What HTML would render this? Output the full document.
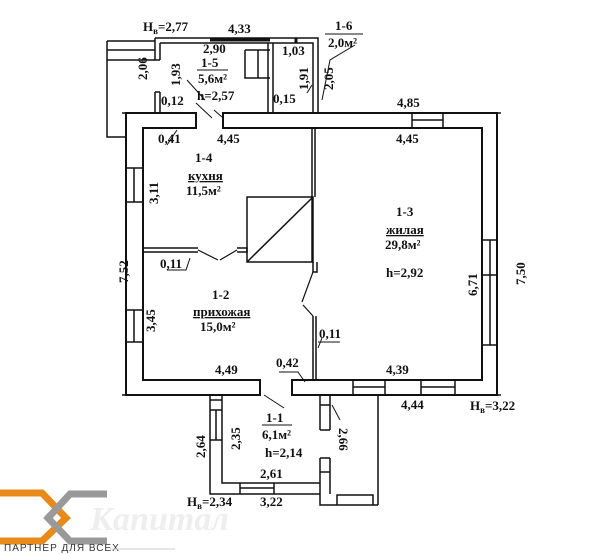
<!DOCTYPE html>
<html><head><meta charset="utf-8"><style>
html,body{margin:0;padding:0;background:#fff;width:600px;height:554px;overflow:hidden}
svg{display:block}
text{font-family:"Liberation Serif",serif;font-weight:bold;font-size:13px;fill:#111}
</style></head><body>
<svg width="600" height="554" viewBox="0 0 600 554" xmlns="http://www.w3.org/2000/svg">
<g fill="none" stroke="#111" stroke-width="2">
<path d="M126 113 H196 V128 H143 V380 H260 V395 H126 Z" fill="#fff"/>
<path d="M223 113 H497 V395 H292 V380 H482 V128 H223 Z" fill="#fff"/>
<path d="M412 113 V128 M443 113 V128 M412 120 H443" stroke-width="1.5"/>
<path d="M353 380 V395 M385 380 V395 M353 387 H385 M421 380 V395 M455 380 V395 M421 387 H455" stroke-width="1.5"/>
<path d="M126 168 H143 M126 202 H143 M134 168 V202 M126 310 H143 M126 342 H143 M134 310 V342" stroke-width="1.5"/>
<path d="M482 240 H497 M482 275 H497 M482 345 H497 M490 240 V345" stroke-width="1.5"/>
<path d="M122 113 H130 M493 113 H501 M122 395 H130 M493 395 H501" stroke-width="1.5"/>
<path d="M312 128 V262 M315 128 V197 M313 262 V272 H317 V262 M313 316 V380 M316 316 V380" stroke-width="1.5"/>
<path d="M143 248 H198 M143 252 H198 M237 248 H247 V252 H237" stroke-width="1.5"/>
<rect x="247" y="197" width="66" height="65" stroke-width="1.5"/>
<path d="M247 262 L313 197" stroke-width="1.5"/>
<path d="M198 250 L218 260 M237 250 L220 260 M313 272 L302 302 M313 316 L303 305" stroke-width="1.2"/>
<path d="M155 38 H318 V113 M155 38 V60 M160 43 H313 V113 M160 43 V60 M155 60 H160" stroke-width="1.5"/>
<path d="M296 38 V43 M210 40 H270" stroke-width="3"/>
<path d="M268 43 V113 M273 43 V113" stroke-width="1.5"/>
<path d="M245 50 H270 M245 50 V78 H270 M258 50 V78" stroke-width="1.5"/>
<path d="M155 92 V113 M160 92 V113 M155 92 H160" stroke-width="1.5"/>
<path d="M107 41 H155 M107 60 H155 M107 41 V137 H126 M107 50 H155" stroke-width="1.5"/>
<path d="M210 395 V494 H320 M222 395 V483 H320 M210 400 H222 M216 410 V440 M210 410 H222 M210 440 H222" stroke-width="1.5"/>
<path d="M240 483 V494 M274 483 V494 M240 488 H274" stroke-width="1.5"/>
<path d="M320 395 V430 M330 395 V430 M320 430 H330 M320 458 V505 H378 M330 458 V494 M320 458 H330 M320 405 H330 M320 472 H330" stroke-width="1.5"/>
<path d="M378 395 V505 M337 505 V495 H373 V505" stroke-width="1.5"/>
<path d="M187 80 L205 100 M196 103 L212 118 M167 145 L177 130 M167 270 L186 270 L190 258 M318 342 L340 342 M318 348 L322 338 M279 372 L298 372 L305 382 M322 100 L330 60 L355 45 M307 93 L312 85 M264 395 L284 408 M214 110 L222 117 M340 420 L332 405" stroke-width="1"/>
</g>
<g>
<text x="143" y="31" font-size="12">H<tspan font-size="9" dy="3">в</tspan><tspan dy="-3">=2,77</tspan></text>
<text x="228" y="33">4,33</text>
<text x="203" y="53">2,90</text>
<text x="282" y="55">1,03</text>
<text x="335" y="30">1-6</text>
<line x1="325" y1="34" x2="363" y2="34" stroke="#111"/>
<text x="328" y="47">2,0м²</text>
<text x="201" y="67">1-5</text>
<line x1="197" y1="70" x2="228" y2="70" stroke="#111"/>
<text x="198" y="83">5,6м²</text>
<text x="197" y="100">h=2,57</text>
<text x="161" y="105">0,12</text>
<text x="273" y="103">0,15</text>
<text transform="translate(147,80) rotate(-90)">2,06</text>
<text transform="translate(180,86) rotate(-90)">1,93</text>
<text transform="translate(308,90) rotate(-90)">1,91</text>
<text transform="translate(333,90) rotate(-90)">2,05</text>
<text x="397" y="107">4,85</text>
<text x="158" y="143">0,41</text>
<text x="217" y="143">4,45</text>
<text x="396" y="143">4,45</text>
<text x="195" y="162">1-4</text>
<text x="188" y="180" text-decoration="underline">кухня</text>
<text x="186" y="195">11,5м²</text>
<text transform="translate(158,204) rotate(-90)">3,11</text>
<text transform="translate(128,283) rotate(-90)">7,52</text>
<text x="396" y="216">1-3</text>
<text x="386" y="234" text-decoration="underline">жилая</text>
<text x="385" y="249">29,8м²</text>
<text x="386" y="277">h=2,92</text>
<text transform="translate(477,296) rotate(-90)">6,71</text>
<text transform="translate(525,285) rotate(-90)">7,50</text>
<text x="160" y="268">0,11</text>
<text x="212" y="299">1-2</text>
<text x="193" y="316" text-decoration="underline">прихожая</text>
<text x="200" y="331">15,0м²</text>
<text transform="translate(155,332) rotate(-90)">3,45</text>
<text x="319" y="338">0,11</text>
<text x="276" y="367">0,42</text>
<text x="215" y="374">4,49</text>
<text x="386" y="374">4,39</text>
<text x="401" y="409">4,44</text>
<text x="470" y="410" font-size="12">H<tspan font-size="9" dy="3">в</tspan><tspan dy="-3">=3,22</tspan></text>
<text x="266" y="422">1-1</text>
<line x1="262" y1="425" x2="292" y2="425" stroke="#111"/>
<text x="262" y="439">6,1м²</text>
<text x="265" y="457">h=2,14</text>
<text transform="translate(205,458) rotate(-90)">2,64</text>
<text transform="translate(240,450) rotate(-90)">2,35</text>
<text transform="translate(339,428) rotate(90)">2,66</text>
<text x="260" y="478">2,61</text>
<text x="187" y="506" font-size="12">H<tspan font-size="9" dy="3">в</tspan><tspan dy="-3">=2,34</tspan></text>
<text x="260" y="506">3,22</text>
</g>
<g fill="none" stroke-width="7">
<path d="M0 493 H42 L66 518 L42 541 H0" stroke="#e88a1a"/>
<path d="M107 494 H70 L48 518 L70 541 H107" stroke="#999"/>
</g>
<text x="90" y="530" style="font-size:34px;font-style:italic;fill:#eee;font-family:'Liberation Serif',serif">Капитал</text>
<text x="4" y="551" style="font-family:'Liberation Sans',sans-serif;font-size:10px;font-weight:normal;fill:#333;letter-spacing:1px">ПАРТНЕР ДЛЯ ВСЕХ</text>
<line x1="110" y1="549" x2="175" y2="549" stroke="#ccc"/>
</svg>
</body></html>
